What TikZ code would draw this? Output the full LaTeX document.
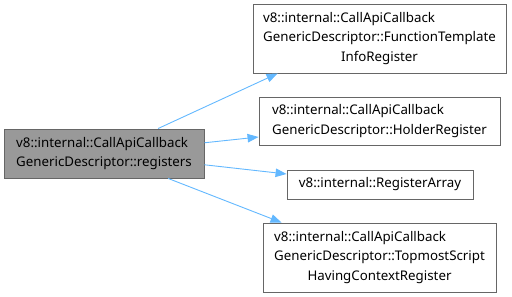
\documentclass[tikz,border=0pt]{standalone}
\usepackage{fontspec}
\setmainfont{Noto Sans}
\usetikzlibrary{arrows.meta}

\definecolor{edgeblue}{HTML}{63B8FF}
\definecolor{boxline}{HTML}{666666}
\definecolor{boxfill}{HTML}{999999}

\begin{document}
\begin{tikzpicture}[x=1pt, y=-1pt,
	member/.style={draw=boxline, line width=0.9pt, fill=white, inner sep=0pt, align=left,
		font=\fontsize{13.3}{19.5}\selectfont},
	current/.style={member, fill=boxfill},
	edge/.style={draw=edgeblue, line width=0.9pt, -{Triangle[length=11pt,width=8.5pt]}}]
	\useasboundingbox (0,0) rectangle (512,297);

	% the member being documented
	\node[current, minimum width=200pt, minimum height=49pt] (regs) at (104,153.5)
		{v8::internal::CallApiCallback\\GenericDescriptor::registers};

	% what it calls
	\node[member, minimum width=253pt, minimum height=69pt] (funcinfo) at (379.5,38.5)
		{v8::internal::CallApiCallback\\GenericDescriptor::FunctionTemplate\\\hfill InfoRegister\hfill\null};
	\node[member, minimum width=241pt, minimum height=48pt] (holder) at (379.5,121)
		{v8::internal::CallApiCallback\\GenericDescriptor::HolderRegister};
	\node[member, minimum width=186pt, minimum height=29pt] (regarray) at (380,184.5)
		{v8::internal::RegisterArray};
	\node[member, minimum width=233pt, minimum height=69pt] (topmost) at (379.5,257.5)
		{v8::internal::CallApiCallback\\GenericDescriptor::TopmostScript\\\hfill HavingContextRegister\hfill\null};

	\draw[edge] (regs) -- ([xshift=25pt]funcinfo.south west);
	\draw[edge] (regs) -- ([yshift=-16pt]holder.west);
	\draw[edge] (regs) -- ([yshift=10.5pt]regarray.west);
	\draw[edge] (regs) -- ([xshift=19pt]topmost.north west);
\end{tikzpicture}
\end{document}
